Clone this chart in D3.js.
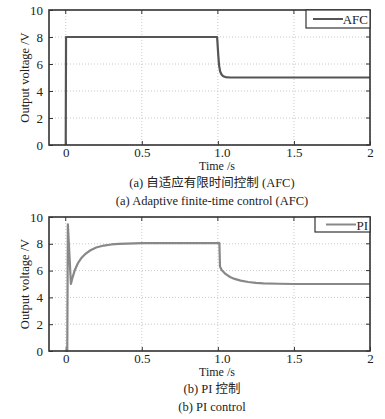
<!DOCTYPE html>
<html>
<head>
<meta charset="utf-8">
<script src="https://cdn.jsdelivr.net/npm/d3@7"></script>
<style>
  body { margin: 0; background: #fff; }
  svg text { font-family: "Liberation Serif", "DejaVu Serif", "Noto Serif", "Times New Roman", serif; fill: #222; }
  svg text.cjk { font-family: "Liberation Serif", "DejaVu Serif", "Noto Sans CJK SC", serif; }
</style>
</head>
<body>
<div id="chart"></div>
<script>
// time (s) and output voltage (V)
var afcTime = [0, 0.002, 0.995, 1.003, 1.008, 1.015, 1.025, 1.035, 1.05, 1.08, 2];
var afcVolt = [0, 8, 8, 6.6, 5.9, 5.45, 5.2, 5.1, 5.03, 5, 5];

var piTime = [0, 0.01, 0.014, 0.034, 0.045, 0.06, 0.08, 0.1, 0.13, 0.16, 0.2, 0.25, 0.3, 0.35, 0.4, 0.5, 1.01,
  1.014, 1.025, 1.05, 1.08, 1.11, 1.15, 1.2, 1.25, 1.3, 1.4, 1.5, 2];
var piVolt = [0, 0, 9.45, 5.0, 5.5, 6.05, 6.55, 6.9, 7.25, 7.5, 7.72, 7.87, 7.95, 7.99, 8.02, 8.05, 8.05,
  6.3, 6.05, 5.75, 5.52, 5.38, 5.25, 5.15, 5.08, 5.05, 5.02, 5.0, 5.0];

var xTicks = [0, 0.5, 1.0, 1.5, 2];
var xTickLabels = ["0", "0.5", "1.0", "1.5", "2"];
var yTicks = [0, 2, 4, 6, 8, 10];

var width = 385, height = 419;
var svg = d3.select("#chart").append("svg")
  .attr("width", width)
  .attr("height", height);

function drawPanel(cfg) {
  var left = 49, right = 370;
  var x = d3.scaleLinear().domain([-0.11, 2]).range([left, right]);
  var y = d3.scaleLinear().domain([0, 10]).range([cfg.bottom, cfg.top]);
  var g = svg.append("g");

  // dotted grid
  g.selectAll(".gx").data(xTicks).enter().append("line")
    .attr("x1", function(d) { return x(d); }).attr("x2", function(d) { return x(d); })
    .attr("y1", cfg.top).attr("y2", cfg.bottom)
    .attr("stroke", "#c8c8c8").attr("stroke-width", 1).attr("stroke-dasharray", "1,2");
  g.selectAll(".gy").data(yTicks).enter().append("line")
    .attr("x1", left).attr("x2", right)
    .attr("y1", function(d) { return y(d); }).attr("y2", function(d) { return y(d); })
    .attr("stroke", "#c8c8c8").attr("stroke-width", 1).attr("stroke-dasharray", "1,2");

  // axes, ticks pointing inward
  var xAxis = d3.axisBottom(x).tickValues(xTicks)
    .tickFormat(function(d, i) { return xTickLabels[i]; })
    .tickSizeInner(-4).tickSizeOuter(0).tickPadding(3);
  var yAxis = d3.axisLeft(y).tickValues(yTicks).tickSizeInner(-4).tickSizeOuter(0).tickPadding(6);

  var gx = g.append("g").attr("transform", "translate(0," + cfg.bottom + ")").call(xAxis);
  var gy = g.append("g").attr("transform", "translate(" + left + ",0)").call(yAxis);
  [gx, gy].forEach(function(a) {
    a.attr("font-family", null);
    a.select(".domain").remove();
    a.selectAll(".tick line").attr("stroke", "#333");
    a.selectAll("text").attr("font-size", 13).attr("fill", "#222");
  });
  // MATLAB puts the "1.0" label a little right of its tick
  gx.selectAll(".tick text").attr("dx", function(d) { return d === 1 ? 4 : 0; });

  // top/right ticks
  g.selectAll(".tx").data(xTicks).enter().append("line")
    .attr("x1", function(d) { return x(d); }).attr("x2", function(d) { return x(d); })
    .attr("y1", cfg.top).attr("y2", cfg.top + 4).attr("stroke", "#333");
  g.selectAll(".ty").data(yTicks).enter().append("line")
    .attr("x1", right).attr("x2", right - 4)
    .attr("y1", function(d) { return y(d); }).attr("y2", function(d) { return y(d); })
    .attr("stroke", "#333");

  // curve
  var pts = cfg.t.map(function(t, i) { return [t, cfg.v[i]]; });
  var line = d3.line().x(function(d) { return x(d[0]); }).y(function(d) { return y(d[1]); });
  g.append("path").datum(pts).attr("d", line)
    .attr("fill", "none").attr("stroke", cfg.color).attr("stroke-width", 2.2)
    .attr("stroke-linejoin", "round");

  // frame
  g.append("rect").attr("x", left).attr("y", cfg.top)
    .attr("width", right - left).attr("height", cfg.bottom - cfg.top)
    .attr("fill", "none").attr("stroke", "#333").attr("stroke-width", 1.6);

  // legend
  var lg = g.append("g");
  lg.append("rect").attr("x", cfg.legX).attr("y", cfg.top)
    .attr("width", right - cfg.legX).attr("height", cfg.legH)
    .attr("fill", "#fff").attr("stroke", "#333").attr("stroke-width", 1.2);
  lg.append("line").attr("x1", cfg.legX + cfg.legPad).attr("x2", cfg.legX + cfg.legPad + 30)
    .attr("y1", cfg.top + cfg.legH / 2).attr("y2", cfg.top + cfg.legH / 2)
    .attr("stroke", cfg.color).attr("stroke-width", 2);
  lg.append("text").attr("x", right - 2).attr("y", cfg.top + cfg.legH / 2 + 5)
    .attr("text-anchor", "end").attr("font-size", 13).text(cfg.name);

  // labels
  svg.append("text").attr("transform", "translate(29," + ((cfg.top + cfg.bottom) / 2) + ") rotate(-90)")
    .attr("text-anchor", "middle").attr("font-size", 12.5).text("Output voltage /V");
  svg.append("text").attr("x", 217).attr("y", cfg.bottom + 25)
    .attr("text-anchor", "middle").attr("font-size", 12).text("Time /s");
  svg.append("text").attr("class", "cjk").attr("x", 212).attr("y", cfg.bottom + 42)
    .attr("text-anchor", "middle").attr("font-size", 12.5).text(cfg.capCn);
  svg.append("text").attr("x", 212).attr("y", cfg.bottom + 60)
    .attr("text-anchor", "middle").attr("font-size", 12.5).text(cfg.capEn);
}

drawPanel({ top: 10, bottom: 145, t: afcTime, v: afcVolt, color: "#555", name: "AFC",
  legX: 306, legH: 18, legPad: 7,
  capCn: "(a) 自适应有限时间控制 (AFC)", capEn: "(a) Adaptive finite-time control (AFC)" });
drawPanel({ top: 217, bottom: 351, t: piTime, v: piVolt, color: "#888", name: "PI",
  legX: 315, legH: 15, legPad: 11,
  capCn: "(b) PI 控制", capEn: "(b) PI control" });
</script>
</body>
</html>
